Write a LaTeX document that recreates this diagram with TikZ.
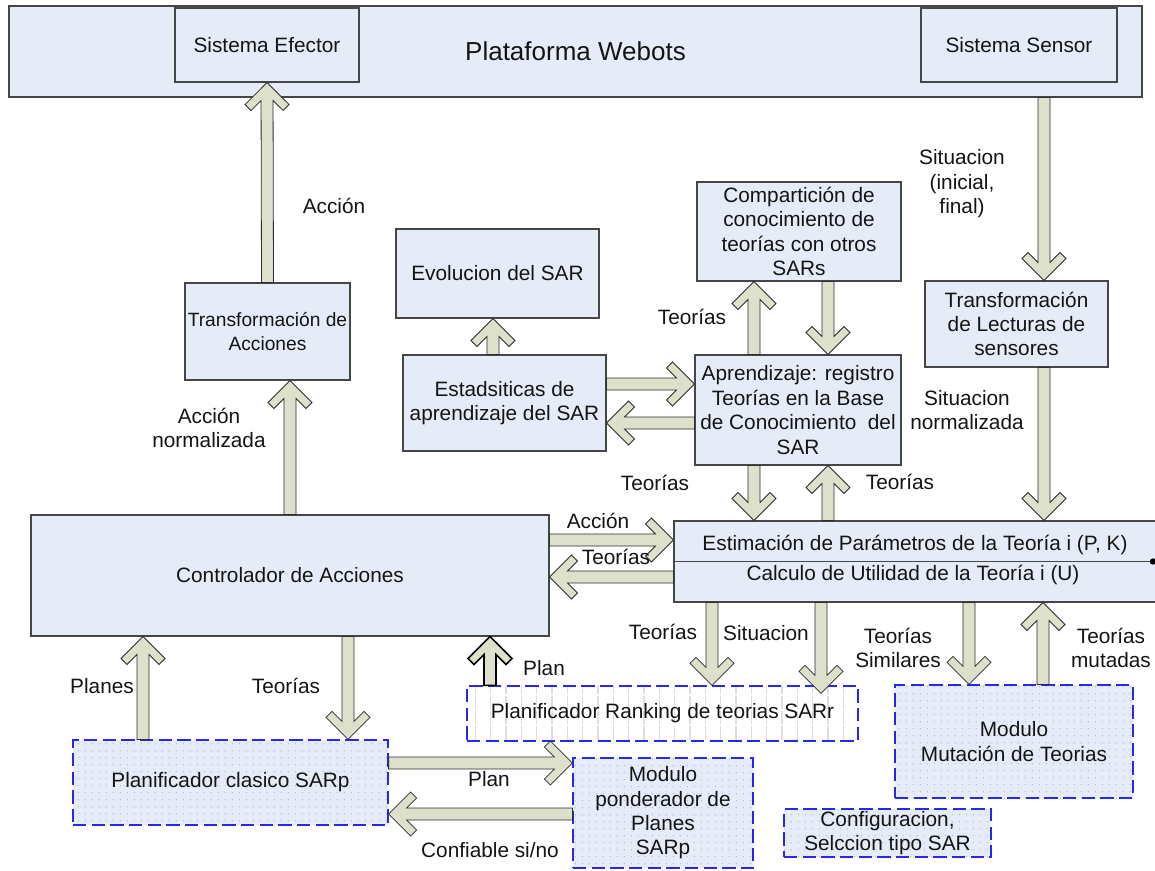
\documentclass[tikz,border=0pt]{standalone}
\usepackage{fontspec}
\setmainfont{Liberation Sans}
\usetikzlibrary{calc,patterns.meta}

\definecolor{boxfill}{RGB}{230,236,247}
\definecolor{boxline}{RGB}{70,70,70}
\definecolor{arrfill}{RGB}{221,224,203}
\definecolor{arrline}{RGB}{45,45,45}
\definecolor{dashblue}{RGB}{40,40,235}
\definecolor{dotcol}{RGB}{165,178,210}
\definecolor{stripe}{RGB}{222,222,222}
\definecolor{ink}{RGB}{20,20,20}

\newcommand\fsz{\fontsize{15.6pt}{18.3pt}\selectfont}
\newcommand\smfsz{\fontsize{14.4pt}{18.3pt}\selectfont}
\newcommand\bigfsz{\fontsize{19.5pt}{22pt}\selectfont}

\tikzset{
  sz/.style 2 args={minimum width=#1*0.75pt, minimum height=#2*0.75pt},
  box/.style={draw=boxline, fill=boxfill, line width=0.8pt, inner sep=0pt,
    align=center, font=\fsz, text=ink},
  dbox/.style={draw=dashblue, line width=0.9pt, dash pattern=on 10pt off 4pt,
    preaction={fill=boxfill},
    pattern={Dots[distance=5.4pt, radius=0.55pt]}, pattern color=dotcol,
    inner sep=0pt, align=center, font=\fsz, text=ink},
  rbox/.style={draw=dashblue, line width=0.9pt, dash pattern=on 10pt off 4pt,
    preaction={fill=white},
    pattern={Lines[angle=90, distance=11.5pt, line width=0.9pt]}, pattern color=stripe,
    inner sep=0pt, align=center, font=\fsz, text=ink},
  txt/.style={inner sep=0pt, align=center, font=\fsz, text=ink},
  arr/.style={fill=arrfill, draw=arrline, line width=0.6pt, line join=miter},
  divider/.style={draw=boxline, line width=0.8pt},
}

% block arrow with a chevron head: tail at #2, tip at #3
\newcommand\blkarrow[3][]{%
  \filldraw[arr,#1]
    ($(#2)!4.5pt!90:(#3)$)
    -- ($(#3)!14.23pt!-18.43:(#2)$)
    -- ($(#3)!24.19pt!-29.74:(#2)$)
    -- ($(#3)!23.33pt!-45:(#2)$)
    -- (#3)
    -- ($(#3)!23.33pt!45:(#2)$)
    -- ($(#3)!24.19pt!29.74:(#2)$)
    -- ($(#3)!14.23pt!18.43:(#2)$)
    -- ($(#2)!4.5pt!-90:(#3)$)
    -- cycle;}

\begin{document}
\begin{tikzpicture}[x=0.75pt,y=-0.75pt]
\useasboundingbox (0,0) rectangle (1155,870);

% simulation platform with its two subsystems
\node[box, sz={1133}{91}, font=\bigfsz] (webots) at (575.5,51.5) {Plataforma Webots};
\node[box, sz={184}{74}] (efector) at (267,45) {Sistema Efector};
\node[box, sz={196}{74}] (sensor) at (1019,45) {Sistema Sensor};

% processing blocks
\node[box, sz={165}{97}, font=\smfsz] (ta) at (267.5,331.5) {Transformación de\\Acciones};
\node[box, sz={203}{89}] (evo) at (497.5,273.5) {Evolucion del SAR};
\node[box, sz={203}{96}] (stat) at (504.5,403) {Estadsiticas de\\aprendizaje del SAR};
\node[box, sz={204}{99}] (comp) at (799,231.5) {Compartición de\\conocimiento de\\teorías con otros\\SARs};
\node[box, sz={206}{110}] (apr) at (798,410) {Aprendizaje: registro\\Teorías en la Base\\de Conocimiento\ \ del\\SAR};
\node[box, sz={183}{86}] (tl) at (1016.5,324) {Transformación\\de Lecturas de\\sensores};
\node[box, sz={518}{121}] (ctrl) at (290,575.5) {Controlador de Acciones};

% estimation / utility block
\node[box, sz={483}{81}] (est) at (915.5,561.5) {};
\coordinate (estdot) at (1153,561.5);
\draw[divider] (est.west) -- (estdot);
\fill[black] (estdot) circle (2.4pt);
\node[txt] (est1) at (915,545) {Estimación de Parámetros de la Teoría i (P, K)};
\node[txt] (est2) at (913,575) {Calculo de Utilidad de la Teoría i (U)};

% planners and modules
\node[rbox, sz={391}{55}] (rank) at (662.5,713.5) {Planificador Ranking de teorias SARr};
\node[dbox, sz={315}{85}] (pc) at (230.5,782.5) {Planificador clasico SARp};
\node[dbox, sz={180}{110}] (pond) at (663,813) {Modulo\\ponderador de\\Planes\\SARp};
\node[dbox, sz={238}{113}] (mut) at (1014,741.5) {Modulo\\Mutación de Teorias};
\node[dbox, sz={207}{48}] (cfg) at (887.5,833) {Configuracion,\\Selccion tipo SAR};

% lanes used by the arrows
\coordinate (xA) at (290,0);
\coordinate (xS) at (1044,0);
\coordinate (xL) at (754,0);
\coordinate (xR) at (828,0);
\coordinate (xE) at (493,0);
\coordinate (xP) at (143,0);
\coordinate (xT) at (348,0);
\coordinate (xK) at (490,0);
\coordinate (xD) at (712,0);
\coordinate (xI) at (821,0);
\coordinate (xM) at (969,0);
\coordinate (xU) at (1043,0);
\coordinate (y1) at (0,384);
\coordinate (y2) at (0,423);
\coordinate (y3) at (0,540);
\coordinate (y4) at (0,577);
\coordinate (y5) at (0,763);
\coordinate (y6) at (0,814);
\coordinate (sitTip) at ($(rank.north -| xI)+(0,8)$);

% arrows
\blkarrow{ta.north}{efector.south}
\blkarrow{ctrl.north -| xA}{ta.south -| xA}
\blkarrow{webots.south -| xS}{tl.north -| xS}
\blkarrow{tl.south -| xS}{est.north -| xS}
\blkarrow{apr.north -| xL}{comp.south -| xL}
\blkarrow{comp.south -| xR}{apr.north -| xR}
\blkarrow{apr.south -| xL}{est.north -| xL}
\blkarrow{est.north -| xR}{apr.south -| xR}
\blkarrow{stat.east |- y1}{apr.west |- y1}
\blkarrow{apr.west |- y2}{stat.east |- y2}
\blkarrow{stat.north -| xE}{evo.south -| xE}
\blkarrow{ctrl.east |- y3}{est.west |- y3}
\blkarrow{est.west |- y4}{ctrl.east |- y4}
\blkarrow{pc.north -| xP}{ctrl.south -| xP}
\blkarrow{ctrl.south -| xT}{pc.north -| xT}
\blkarrow[draw=black, line width=1.2pt]{rank.north -| xK}{ctrl.south -| xK}
\blkarrow{est.south -| xD}{rank.north -| xD}
\blkarrow{est.south -| xI}{sitTip}
\blkarrow{est.south -| xM}{mut.north -| xM}
\blkarrow{mut.north -| xU}{est.south -| xU}
\blkarrow{pc.east |- y5}{pond.west |- y5}
\blkarrow{pond.west |- y6}{pc.east |- y6}

% arrow labels
\node[txt] (lAccion) at (334,206) {Acción};
\node[txt] (lAccNorm) at (209,428) {Acción\\normalizada};
\node[txt] (lTeoComp) at (692,317) {Teorías};
\node[txt] (lTeoDown) at (655,483) {Teorías};
\node[txt] (lTeoUp) at (900,482) {Teorías};
\node[txt] (lSit) at (962,184) {Situacion\\(inicial,\\final)};
\node[txt] (lSitNorm) at (967,410) {Situacion\\normalizada};
\node[txt] (lAccEst) at (598,521) {Acción};
\node[txt] (lTeoCtrl) at (616,557) {Teorías};
\node[txt] (lTeoRank) at (663,632) {Teorías};
\node[txt] (lSitRank) at (766,633) {Situacion};
\node[txt] (lTeoSim) at (898,648) {Teorías\\Similares};
\node[txt] (lTeoMut) at (1111,648) {Teorías\\mutadas};
\node[txt] (lPlanes) at (102,686) {Planes};
\node[txt] (lTeoPc) at (286,686) {Teorías};
\node[txt] (lPlanRank) at (544,668) {Plan};
\node[txt] (lPlanPond) at (489,779) {Plan};
\node[txt] (lConf) at (490,850) {Confiable si/no};
\end{tikzpicture}
\end{document}
